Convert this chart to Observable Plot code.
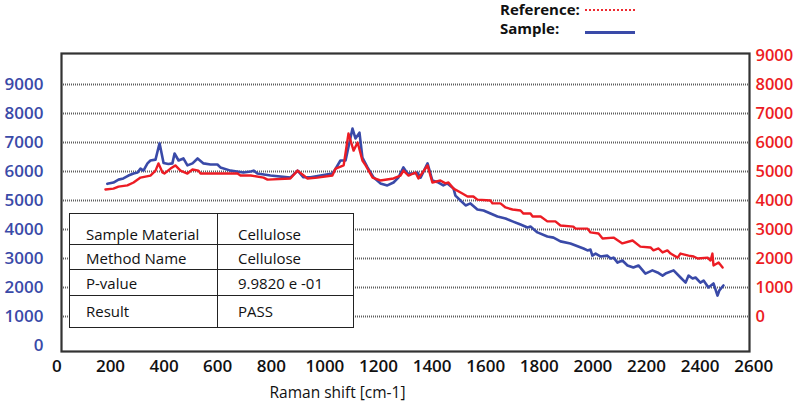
<!DOCTYPE html>
<html><head><meta charset="utf-8">
<script src="https://cdn.jsdelivr.net/npm/d3@7"></script>
<script src="https://cdn.jsdelivr.net/npm/@observablehq/plot@0.6"></script>
<style>
body{margin:0;background:#fff;font-family:"Open Sans",sans-serif;}
#wrap{position:relative;width:800px;height:406px;overflow:hidden;}
#legend{position:relative;height:40px;}
.lg-text{position:absolute;left:500px;font-weight:700;font-size:15px;line-height:18px;color:#111;}
#lg-ref-line{position:absolute;left:585px;width:50px;top:9px;border-top:2px dotted #ee2a30;}
#lg-smp-line{position:absolute;left:585px;width:50px;top:31px;height:3px;background:#3a4aa8;}
#info{position:absolute;left:69px;top:213px;border-collapse:collapse;background:#fff;font-size:15px;color:#111;}
#info td{border:1.3px solid #222;padding:0;vertical-align:top;line-height:18px;box-sizing:border-box;}
#info td.c1{width:148px;padding-left:16px;}
#info td.c2{width:136px;padding-left:20px;}
</style>
</head><body>
<div id="wrap">
  <div id="legend">
    <div class="lg-text" style="top:0px">Reference:</div>
    <div id="lg-ref-line"></div>
    <div class="lg-text" style="top:19px">Sample:</div>
    <div id="lg-smp-line"></div>
  </div>
  <div id="chart"></div>
  <table id="info"></table>
</div>
<script>
const BLUE = "#3a4aa8";
const RED = "#ec1c24";

// Sample spectrum (left axis units)
const sampleShift = [188,211,230,248,267,286,301,312,323,338,349,368,383,398,416,431,439,454,472,487,506,525,547,573,599,610,648,696,723,734,748,797,871,898,920,946,984,1028,1040,1058,1077,1103,1114,1129,1140,1159,1182,1207,1233,1256,1274,1293,1308,1330,1345,1357,1383,1401,1424,1442,1457,1480,1487,1506,1525,1543,1569,1592,1618,1644,1674,1700,1730,1756,1767,1793,1830,1853,1879,1916,1965,1980,1991,1998,2010,2028,2054,2066,2077,2092,2110,2129,2151,2170,2196,2222,2241,2260,2271,2301,2327,2346,2357,2372,2383,2401,2413,2431,2450,2465,2472,2487];
const sampleIntensity = [5575,5620,5720,5760,5860,5930,5965,6100,6030,6280,6380,6410,6975,6290,6260,6280,6620,6380,6450,6210,6280,6450,6280,6240,6240,6140,6030,5965,6000,6030,5930,5860,5790,6030,5800,5800,5860,5930,6100,6380,6380,7480,7140,7340,6480,6140,5790,5590,5520,5620,5790,6140,5930,5930,5965,5790,6280,5690,5620,5520,5590,5410,5170,5000,4830,4900,4690,4655,4550,4450,4380,4280,4170,4070,4100,3900,3760,3720,3590,3520,3345,3280,3310,3100,3170,3070,3100,3000,3030,2860,2930,2760,2690,2760,2480,2590,2520,2410,2480,2590,2345,2170,2410,2310,2345,2170,2240,2000,2140,1720,1900,2070];

// Reference spectrum (right axis units)
const referenceShift = [181,211,230,263,286,312,349,368,379,394,401,424,442,461,487,506,528,536,648,674,685,723,771,786,871,898,935,972,1028,1040,1070,1088,1107,1122,1140,1152,1178,1207,1256,1282,1293,1312,1338,1349,1383,1401,1431,1450,1461,1480,1513,1532,1554,1569,1618,1625,1655,1674,1700,1730,1741,1767,1775,1805,1830,1860,1879,1927,1935,1980,1991,2021,2036,2077,2110,2148,2177,2215,2226,2245,2260,2278,2290,2316,2327,2357,2376,2391,2428,2439,2446,2450,2469,2484];
const referenceIntensity = [4380,4410,4480,4520,4620,4790,4860,5030,5280,4965,4930,5100,5210,5030,4930,5070,5030,4930,4930,4930,4860,4860,4790,4720,4760,5030,4760,4790,4860,5100,5210,6310,5720,6000,5380,5210,4790,4690,4760,4860,5030,4860,4965,4760,5210,4620,4690,4590,4620,4410,4240,4140,4140,4030,4000,3900,3900,3760,3690,3655,3550,3550,3450,3450,3280,3280,3140,3100,3030,3030,2900,2860,2690,2720,2520,2620,2410,2380,2280,2345,2210,2280,2170,2030,2170,2100,2070,2000,2030,1930,2170,1760,1860,1690];

const leftTicks = [0,1000,2000,3000,4000,5000,6000,7000,8000,9000];
const rightTicks = [0,1000,2000,3000,4000,5000,6000,7000,8000,9000];
const xTicks = [0,200,400,600,800,1000,1200,1400,1600,1800,2000,2200,2400,2600];
const gridValues = [1000,2000,3000,4000,5000,6000,7000,8000,9000];
const RIGHT_OFFSET = 1000; // right axis 0 sits on left axis 1000
const xTitle = "Raman shift [cm-1]";

const tableLabels = ["Sample Material","Method Name","P-value","Result"];
const tableValues = ["Cellulose","Cellulose","9.9820 e -01","PASS"];

const sampleData = sampleShift.map((x, i) => ({x, y: sampleIntensity[i]}));
const referenceData = referenceShift.map((x, i) => ({x, y: referenceIntensity[i] + RIGHT_OFFSET}));

const plot = Plot.plot({
  width: 800, height: 366,
  marginTop: 13, marginBottom: 55, marginLeft: 61, marginRight: 51,
  x: {domain: [0, 2600], range: [56.4, 753.2]},
  y: {domain: [0, 9000], range: [305, 44]},
  style: {fontFamily: '"Open Sans", sans-serif', background: "transparent"},
  marks: [
    Plot.ruleY(gridValues, {stroke: "#5e5e5e", strokeWidth: 2, strokeDasharray: "1,1"}),
    Plot.axisY(leftTicks, {anchor: "left", tickSize: 0, tickPadding: 18, color: BLUE, fontSize: 17, fontWeight: 600, tickFormat: d => String(d), label: null}),
    Plot.axisY(rightTicks.map(d => d + RIGHT_OFFSET), {anchor: "right", tickSize: 0, tickPadding: 6, color: RED, fontSize: 16.5, fontWeight: 600, tickFormat: d => String(d - RIGHT_OFFSET), label: null}),
    Plot.axisX(xTicks, {anchor: "bottom", tickSize: 0, tickPadding: 8, color: "#111", fontSize: 17, fontWeight: 600, tickFormat: d => String(d), label: null}),
    Plot.line(sampleData, {x: "x", y: "y", stroke: BLUE, strokeWidth: 2.6}),
    Plot.line(referenceData, {x: "x", y: "y", stroke: RED, strokeWidth: 2.4}),
    Plot.text([xTitle], {frameAnchor: "bottom", dx: -68, dy: 46, fontSize: 15.5, fill: "#111"}),
    Plot.frame({stroke: "#333", strokeWidth: 2.2})
  ]
});
document.getElementById("chart").appendChild(plot);

const rowHeights = [31, 25, 26, 32];
const rowPads = [11, 4, 4, 6];
const table = document.getElementById("info");
tableLabels.forEach((lab, i) => {
  const tr = document.createElement("tr");
  tr.style.height = rowHeights[i] + "px";
  const a = document.createElement("td"); a.className = "c1"; a.textContent = lab; a.style.paddingTop = rowPads[i] + "px";
  const b = document.createElement("td"); b.className = "c2"; b.textContent = tableValues[i]; b.style.paddingTop = rowPads[i] + "px";
  tr.appendChild(a); tr.appendChild(b); table.appendChild(tr);
});
</script>
</body></html>
